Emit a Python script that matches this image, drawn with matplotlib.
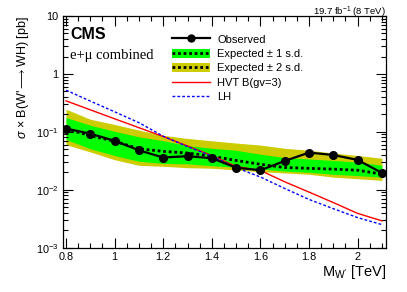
import matplotlib
matplotlib.use('Agg')
import matplotlib.pyplot as plt
from matplotlib.lines import Line2D
from matplotlib.patches import Patch
from matplotlib.ticker import FixedLocator, FixedFormatter, MultipleLocator, LogLocator, NullFormatter

plt.rcParams['font.family'] = ['Liberation Sans', 'DejaVu Sans']
plt.rcParams['mathtext.fontset'] = 'custom'
plt.rcParams['mathtext.rm'] = 'Liberation Sans'
plt.rcParams['mathtext.it'] = 'Liberation Sans:italic'
plt.rcParams['mathtext.bf'] = 'Liberation Sans:bold'

# W' mass points [TeV]
mass = [0.8, 0.9, 1.0, 1.1, 1.2, 1.3, 1.4, 1.5, 1.6, 1.7, 1.8, 1.9, 2.0, 2.1]
# limits [pb]
observed = [0.114, 0.093, 0.070, 0.048, 0.036, 0.038, 0.035, 0.024, 0.0217, 0.0314, 0.0438, 0.0398, 0.0327, 0.0195]
expected = [0.112, 0.086, 0.069, 0.051, 0.046, 0.043, 0.038, 0.032, 0.0275, 0.0242, 0.0234, 0.0227, 0.0217, 0.0186]
exp_up1 = [0.177, 0.130, 0.102, 0.082, 0.070, 0.058, 0.052, 0.048, 0.041, 0.036, 0.034, 0.032, 0.030, 0.0265]
exp_dn1 = [0.074, 0.051, 0.039, 0.031, 0.0285, 0.028, 0.026, 0.0245, 0.0228, 0.021, 0.020, 0.0185, 0.0175, 0.0165]
exp_up2 = [0.246, 0.165, 0.134, 0.107, 0.087, 0.077, 0.070, 0.064, 0.059, 0.052, 0.048, 0.043, 0.039, 0.035]
exp_dn2 = [0.060, 0.045, 0.033, 0.0264, 0.0254, 0.024, 0.0235, 0.022, 0.0205, 0.0195, 0.0185, 0.0165, 0.0155, 0.0145]
# theory curves
hvt_b = [0.343, 0.24, 0.168, 0.118, 0.083, 0.057, 0.039, 0.0252, 0.0215, 0.0137, 0.0091, 0.006, 0.0039, 0.0029]
lh = [0.525, 0.34, 0.222, 0.144, 0.084, 0.0555, 0.038, 0.024, 0.0166, 0.0105, 0.0068, 0.0047, 0.0033, 0.0025]

y_ticks = [1e-3, 1e-2, 1e-1, 1, 10]
y_ticklabels = ['10$^{-3}$', '10$^{-2}$', '10$^{-1}$', '1', '10']
x_ticks = [0.8, 1.0, 1.2, 1.4, 1.6, 1.8, 2.0]
x_ticklabels = ['0.8', '1', '1.2', '1.4', '1.6', '1.8', '2']

GREEN = '#00ff00'
YELLOW = '#cccc00'


def main():
    fig = plt.figure(figsize=(4.07, 2.92), dpi=100)
    ax = fig.add_axes([0.155, 0.152, 0.793, 0.793])

    ax.fill_between(mass, exp_dn2, exp_up2, color=YELLOW, lw=0)
    ax.fill_between(mass, exp_dn1, exp_up1, color=GREEN, lw=0)
    ax.plot(mass, expected, color='black', lw=2, ls=(0, (1, 1)))
    ax.plot(mass, hvt_b, color='red', lw=1)
    ax.plot(mass, lh, color='blue', lw=1, ls=(0, (2, 1.5)))
    ax.plot(mass, observed, color='black', lw=1.6, marker='o', ms=5.5)

    ax.set_yscale('log')
    ax.set_ylim(1e-3, 10)
    ax.set_xlim(0.788, 2.116)

    ax.yaxis.set_major_locator(FixedLocator(y_ticks))
    ax.yaxis.set_major_formatter(FixedFormatter(y_ticklabels))
    ax.yaxis.set_minor_locator(LogLocator(base=10, subs=range(2, 10)))
    ax.yaxis.set_minor_formatter(NullFormatter())
    ax.xaxis.set_major_locator(FixedLocator(x_ticks))
    ax.xaxis.set_major_formatter(FixedFormatter(x_ticklabels))
    ax.xaxis.set_minor_locator(MultipleLocator(0.05))

    ax.tick_params(which='both', direction='in', top=True, right=True, width=0.8, labelsize=7.8)
    ax.tick_params(which='major', length=7)
    ax.tick_params(which='minor', length=3.5)
    ax.tick_params(axis='x', pad=3)
    for s in ax.spines.values():
        s.set_linewidth(0.9)

    ax.set_ylabel(r"$\sigma$ × B(W'$\longrightarrow$WH) [pb]", fontsize=9, loc='top', labelpad=3)
    ax.set_xlabel(r"M$_{\mathrm{W'}}$ [TeV]", fontsize=10.5, loc='right', labelpad=1)

    fig.text(0.948, 0.985, r'19.7 fb$^{-1}$ (8 TeV)', ha='right', va='top', fontsize=6.8)
    ax.text(0.022, 0.92, 'CMS', transform=ax.transAxes, fontsize=11.5, fontweight='bold', va='center')
    ax.text(0.022, 0.83, 'e+μ combined', transform=ax.transAxes, fontsize=10.5,
            family='Liberation Serif', va='center')

    handles = [
        Line2D([], [], color='black', lw=1.6, marker='o', ms=5),
        (Patch(color=GREEN, lw=0), Line2D([], [], color='black', lw=2, ls=(0, (1, 1)))),
        (Patch(color=YELLOW, lw=0), Line2D([], [], color='black', lw=2, ls=(0, (1, 1)))),
        Line2D([], [], color='red', lw=1),
        Line2D([], [], color='blue', lw=1, ls=(0, (2, 1.5))),
    ]
    labels = ['Observed', 'Expected ± 1 s.d.', 'Expected ± 2 s.d.', 'HVT B(gv=3)', 'LH']
    ax.legend(handles, labels, loc='upper left', bbox_to_anchor=(0.337, 0.922), frameon=False,
              fontsize=8, handlelength=3.4, handleheight=0.9, handletextpad=0.7,
              labelspacing=0.36, borderpad=0, borderaxespad=0)

    fig.savefig('out.png', dpi=100)


if __name__ == '__main__':
    main()
